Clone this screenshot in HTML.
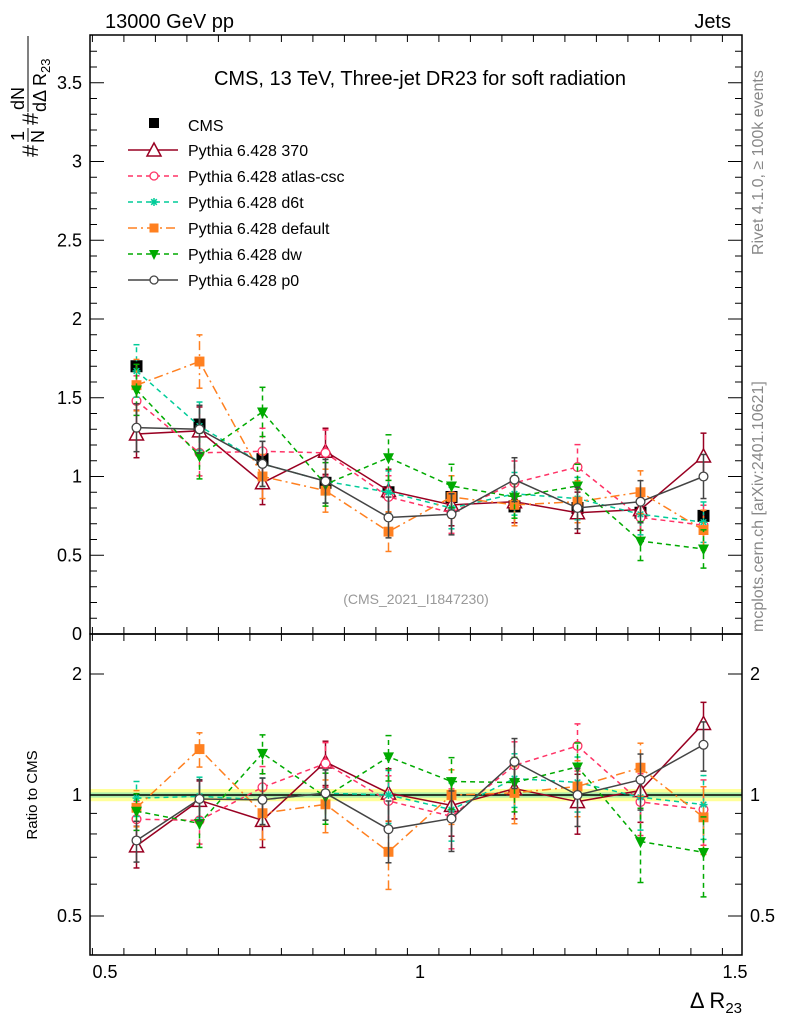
<!DOCTYPE html>
<html><head><meta charset="utf-8"><style>
html,body{margin:0;padding:0;background:#fff;}
svg{display:block;font-family:"Liberation Sans",sans-serif;}
</style></head><body>
<svg id="c" width="786" height="1024" viewBox="0 0 786 1024" xmlns="http://www.w3.org/2000/svg">
<text x="105" y="28" font-size="20">13000 GeV pp</text>
<text x="731" y="28" font-size="20" text-anchor="end">Jets</text>
<text x="420" y="85" font-size="20" text-anchor="middle">CMS, 13 TeV, Three-jet DR23 for soft radiation</text>
<text x="416" y="604" font-size="14" fill="#999" text-anchor="middle">(CMS_2021_I1847230)</text>
<text transform="translate(763,255) rotate(-90)" font-size="16" fill="#888">Rivet 4.1.0, ≥ 100k events</text>
<text transform="translate(763,632) rotate(-90)" font-size="16" fill="#888">mcplots.cern.ch [arXiv:2401.10621]</text>
<text transform="translate(37,795) rotate(-90)" font-size="15" text-anchor="middle">Ratio to CMS</text>
<text x="742" y="1008" font-size="22" text-anchor="end">Δ R<tspan font-size="15" dy="5">23</tspan></text>
<g transform="rotate(-90)">
<text x="-157" y="38" font-size="22">#</text>
<text x="-141" y="24" font-size="18">1</text>
<line x1="-142" x2="-128" y1="28" y2="28" stroke="#000" stroke-width="1"/>
<text x="-143" y="44" font-size="18">N</text>
<text x="-125" y="38" font-size="22">#</text>
<text x="-110" y="24" font-size="18">dN</text>
<line x1="-112" x2="-36" y1="28" y2="28" stroke="#000" stroke-width="1"/>
<text x="-112" y="46" font-size="18">dΔ R<tspan font-size="13" dy="4">23</tspan></text>
</g>
<g id="g"></g>
</svg>
<script>
const xCenters=[0.55,0.65,0.75,0.85,0.95,1.05,1.15,1.25,1.35,1.45];
const cms=[1.70,1.33,1.11,0.96,0.90,0.87,0.81,0.80,0.77,0.75];
const cmsErr=[0.04,0.03,0.03,0.03,0.03,0.03,0.03,0.03,0.03,0.03];
const s370=[1.27,1.29,0.96,1.16,0.91,0.82,0.84,0.77,0.79,1.13];
const sAtlas=[1.48,1.15,1.16,1.15,0.87,0.77,0.96,1.06,0.74,0.69];
const sD6t=[1.67,1.32,1.08,0.97,0.90,0.80,0.89,0.86,0.76,0.71];
const sDefault=[1.58,1.73,1.00,0.91,0.65,0.87,0.82,0.84,0.90,0.66];
const sDw=[1.55,1.13,1.41,0.95,1.12,0.94,0.87,0.94,0.59,0.54];
const sP0=[1.31,1.30,1.08,0.97,0.74,0.76,0.98,0.80,0.84,1.00];
const mainYTicks=[0,0.5,1,1.5,2,2.5,3,3.5];
const ratioYTicks=[0.5,1,2];
const xTicks=[0.5,1,1.5];
const series=[
 {name:'Pythia 6.428 370',key:'series-370',v:s370,c:'#990022',dash:'',m:'tri'},
 {name:'Pythia 6.428 atlas-csc',key:'series-atlas-csc',v:sAtlas,c:'#ff3366',dash:'5,4',m:'ocirc'},
 {name:'Pythia 6.428 d6t',key:'series-d6t',v:sD6t,c:'#00cc99',dash:'5,4',m:'star'},
 {name:'Pythia 6.428 default',key:'series-default',v:sDefault,c:'#ff8020',dash:'9,4,2,4',m:'sq'},
 {name:'Pythia 6.428 dw',key:'series-dw',v:sDw,c:'#00aa00',dash:'5,4',m:'dtri'},
 {name:'Pythia 6.428 p0',key:'series-p0',v:sP0,c:'#444444',dash:'',m:'ocirc'}
];
const L=90,R=742,T=35,M=634,B=955;
const X=v=>105+(v-0.5)*630;
const Y=v=>634-v*157.5;
const RY=v=>795-Math.log2(v)*121;
const NS='http://www.w3.org/2000/svg';
const g=document.getElementById('g');
function el(t,a,p){const e=document.createElementNS(NS,t);for(const k in a)e.setAttribute(k,a[k]);(p||g).appendChild(e);return e;}
let band=el('rect',{x:L,y:RY(1.035),width:R-L,height:RY(0.965)-RY(1.035),fill:'#ffff99'});


let band2=el('rect',{x:L,y:RY(1.015),width:R-L,height:RY(0.985)-RY(1.015),fill:'#aaeeaa'});


el('line',{x1:L,x2:R,y1:RY(1),y2:RY(1),stroke:'#000','stroke-width':1.5});
let f1=el('rect',{x:L,y:T,width:R-L,height:M-T,fill:'none',stroke:'#000','stroke-width':1.5});


let f2=el('rect',{x:L,y:M,width:R-L,height:B-M,fill:'none',stroke:'#000','stroke-width':1.5});


for(let v=0;v<=3.8;v+=0.1){const y=Y(v);if(y<T)break;const maj=Math.abs(v*2-Math.round(v*2))<1e-6;const w=maj?14:7;
 el('line',{x1:L,x2:L+w,y1:y,y2:y,stroke:'#000'});el('line',{x1:R,x2:R-w,y1:y,y2:y,stroke:'#000'});}
mainYTicks.forEach(v=>{const t=el('text',{x:L-8,y:Y(v)+6,'font-size':18,'text-anchor':'end'});t.textContent=String(v);
 });
for(let i=0;i<=22;i++){const v=0.48+i*0.05;const x=X(v);if(x<L||x>R)continue;const maj=Math.abs(v*2-Math.round(v*2))<1e-6;const w=maj?14:7;
 [[T,1],[M,-1],[M,1],[B,-1]].forEach(([y0,d])=>el('line',{x1:x,x2:x,y1:y0,y2:y0+d*w,stroke:'#000'}));}
xTicks.forEach(v=>{const t=el('text',{x:X(v),y:978,'font-size':18,'text-anchor':'middle'});t.textContent=String(v);
 });
[0.4,0.5,0.6,0.7,0.8,0.9,1,2].forEach(v=>{const y=RY(v);const maj=ratioYTicks.includes(v);const w=maj?14:7;
 el('line',{x1:L,x2:L+w,y1:y,y2:y,stroke:'#000'});el('line',{x1:R,x2:R-w,y1:y,y2:y,stroke:'#000'});});
ratioYTicks.forEach(v=>{[[L-8,'end'],[R+8,'start']].forEach(([x,a])=>{const t=el('text',{x:x,y:RY(v)+6,'font-size':18,'text-anchor':a});t.textContent=String(v);
 });});
function marker(p,m,x,y,c,s){s=s||1;
 if(m==='tri')el('polygon',{points:`${x},${y-7*s} ${x-7*s},${y+6*s} ${x+7*s},${y+6*s}`,fill:'#fff',stroke:c,'stroke-width':1.5},p);
 else if(m==='dtri')el('polygon',{points:`${x},${y+6*s} ${x-5*s},${y-4*s} ${x+5*s},${y-4*s}`,fill:c},p);
 else if(m==='ocirc')el('circle',{cx:x,cy:y,r:4*s,fill:'#fff',stroke:c,'stroke-width':1.3},p);
 else if(m==='sq')el('rect',{x:x-4.5*s,y:y-4.5*s,width:9*s,height:9*s,fill:c},p);
 else if(m==='bsq')el('rect',{x:x-6,y:y-6,width:12,height:12,fill:c},p);
 else if(m==='star'){for(let a=0;a<4;a++){const an=a*Math.PI/4;el('line',{x1:x-4*Math.cos(an),y1:y-4*Math.sin(an),x2:x+4*Math.cos(an),y2:y+4*Math.sin(an),stroke:c,'stroke-width':1.5},p);}}
}
function drawSeries(s,ratio){
 const p=el('g',{});
 const ys=s.v.map((v,i)=>ratio?RY(v/cms[i]):Y(v));
 const err=s.v.map(v=>0.1+0.04*v);
 el('polyline',{points:xCenters.map((x,i)=>X(x)+','+ys[i]).join(' '),fill:'none',stroke:s.c,'stroke-width':1.5,'stroke-dasharray':s.dash},p);
 xCenters.forEach((x,i)=>{const lo=ratio?RY((s.v[i]-err[i])/cms[i]):Y(s.v[i]-err[i]);const hi=ratio?RY((s.v[i]+err[i])/cms[i]):Y(s.v[i]+err[i]);
  el('line',{x1:X(x),x2:X(x),y1:lo,y2:hi,stroke:s.c,'stroke-width':1.5,'stroke-dasharray':s.dash},p);
  el('line',{x1:X(x)-3,x2:X(x)+3,y1:lo,y2:lo,stroke:s.c,'stroke-width':1.5},p);
  el('line',{x1:X(x)-3,x2:X(x)+3,y1:hi,y2:hi,stroke:s.c,'stroke-width':1.5},p);
  marker(p,s.m,X(x),ys[i],s.c,s.m==='tri'?1:1.1);});
}
const cg=el('g',{});
xCenters.forEach((x,i)=>{el('line',{x1:X(x),x2:X(x),y1:Y(cms[i]-cmsErr[i]),y2:Y(cms[i]+cmsErr[i]),stroke:'#000','stroke-width':1.5},cg);marker(cg,'bsq',X(x),Y(cms[i]),'#000');});
series.forEach(s=>{drawSeries(s,false);drawSeries(s,true);});
const lg=el('g',{});
let e0=el('g',{},lg);
el('rect',{x:149,y:118,width:10,height:10,fill:'#000'},e0);
let t0=el('text',{x:188,y:131,'font-size':16},e0);t0.textContent='CMS';
series.forEach((s,k)=>{const y=150+k*26;const e=el('g',{},lg);
 el('line',{x1:128,x2:178,y1:y,y2:y,stroke:s.c,'stroke-width':1.5,'stroke-dasharray':s.dash},e);
 marker(e,s.m,154,y,s.c,1);
 const t=el('text',{x:188,y:y+6,'font-size':16},e);t.textContent=s.name;});
</script>
</body></html>
